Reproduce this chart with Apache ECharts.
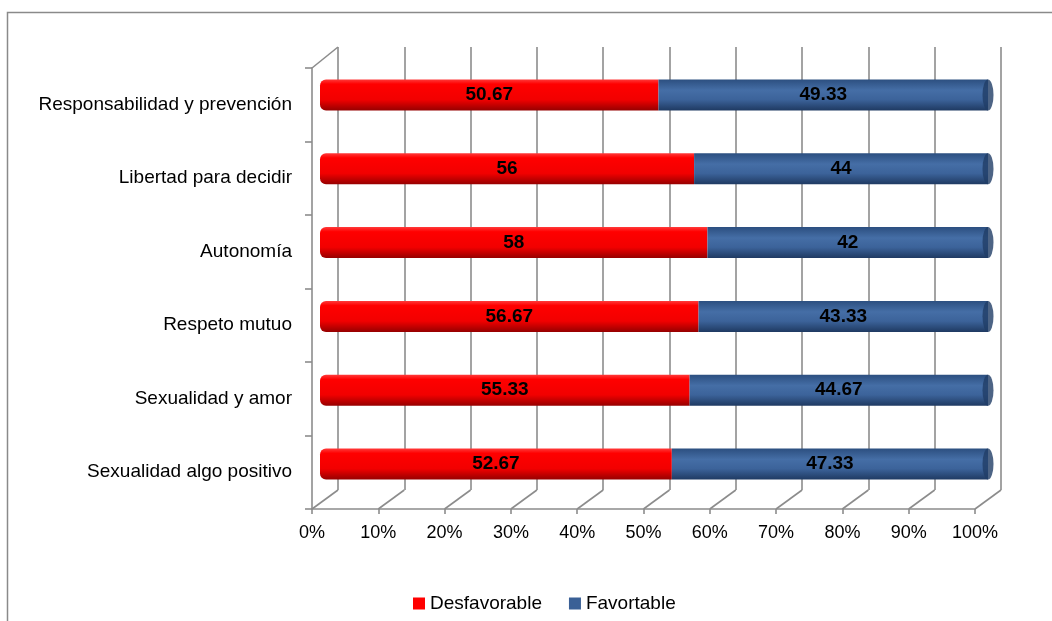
<!DOCTYPE html>
<html>
    <head>
        <meta charset="utf-8" />
        <script src="https://cdnjs.cloudflare.com/ajax/libs/echarts/6.0.0/echarts.min.js"></script>
    </head>
    <body style="margin: 0">
        <div id="main" style="width: 1052px; height: 621px"></div>
        <script type="text/javascript">
            // data, top to bottom as in the picture
            var categories = [
                "Responsabilidad y prevención",
                "Libertad para decidir",
                "Autonomía",
                "Respeto mutuo",
                "Sexualidad y amor",
                "Sexualidad algo positivo",
            ];
            var desfavorable = [50.67, 56, 58, 56.67, 55.33, 52.67];
            var favortable = [49.33, 44, 42, 43.33, 44.67, 47.33];
            var ticks = [0, 10, 20, 30, 40, 50, 60, 70, 80, 90, 100];

            var font = "'Liberation Sans', Arial, sans-serif";
            var gray = "#8c8c8c";

            var myChart = echarts.init(document.getElementById("main"));

            var redFill = new echarts.graphic.LinearGradient(0, 0, 0, 1, [
                { offset: 0, color: "#ff3a3a" },
                { offset: 0.15, color: "#ff0000" },
                { offset: 0.65, color: "#f20000" },
                { offset: 1, color: "#960000" },
            ]);
            var blueFill = new echarts.graphic.LinearGradient(0, 0, 0, 1, [
                { offset: 0, color: "#2c4f80" },
                { offset: 0.35, color: "#456ea6" },
                { offset: 0.65, color: "#3c639a" },
                { offset: 1, color: "#1f3a62" },
            ]);

            var labelStyle = {
                show: true,
                position: "inside",
                color: "#000",
                fontFamily: font,
                fontWeight: "bold",
                fontSize: 19,
            };

            myChart.setOption({
                animation: false,
                textStyle: { fontFamily: font },
                graphic: [
                    {
                        type: "rect",
                        shape: { x: 7.5, y: 12.5, width: 1200, height: 800 },
                        style: { fill: "none", stroke: "#8a8a8a", lineWidth: 1.5 },
                        silent: true,
                    },
                ],
                legend: {
                    left: 408,
                    top: 589,
                    itemWidth: 12,
                    itemHeight: 12,
                    itemGap: 27,
                    icon: "rect",
                    textStyle: { fontSize: 19, color: "#000", fontFamily: font },
                    data: [
                        { name: "Desfavorable", itemStyle: { color: "#ff0000" } },
                        { name: "Favortable", itemStyle: { color: "#3a6096" } },
                    ],
                },
                grid: [
                    // back wall
                    { left: 338, right: 51, top: 47, bottom: 131 },
                    // bars, halfway in depth
                    { left: 320, right: 64, top: 58, bottom: 120 },
                    // front axes
                    { left: 312, right: 77, top: 68, bottom: 112 },
                ],
                xAxis: [
                    {
                        gridIndex: 0,
                        type: "value",
                        min: 0,
                        max: 100,
                        interval: 10,
                        axisLine: { show: false },
                        axisTick: { show: false },
                        axisLabel: { show: false },
                        splitLine: { show: true, lineStyle: { color: gray, width: 1.6 } },
                    },
                    {
                        gridIndex: 1,
                        type: "value",
                        min: 0,
                        max: 100,
                        show: false,
                    },
                    {
                        gridIndex: 2,
                        type: "value",
                        min: 0,
                        max: 100,
                        interval: 10,
                        axisLine: { show: true, lineStyle: { color: gray, width: 1.6 } },
                        axisTick: { show: true, length: 5, lineStyle: { color: gray, width: 1.6 } },
                        axisLabel: {
                            formatter: "{value}%",
                            color: "#000",
                            fontSize: 18,
                            margin: 15,
                        },
                        splitLine: { show: false },
                    },
                ],
                yAxis: [
                    {
                        gridIndex: 0,
                        type: "category",
                        data: categories,
                        inverse: true,
                        show: false,
                    },
                    {
                        gridIndex: 1,
                        type: "category",
                        data: categories,
                        inverse: true,
                        show: false,
                    },
                    {
                        gridIndex: 2,
                        type: "category",
                        data: categories,
                        inverse: true,
                        axisLine: { show: true, lineStyle: { color: gray, width: 1.6 } },
                        axisTick: { show: true, length: 7, lineStyle: { color: gray, width: 1.6 } },
                        axisLabel: { color: "#000", fontSize: 19, margin: 20 },
                    },
                ],
                series: [
                    {
                        name: "Desfavorable",
                        type: "bar",
                        xAxisIndex: 1,
                        yAxisIndex: 1,
                        stack: "total",
                        barWidth: 31,
                        data: desfavorable,
                        itemStyle: { color: redFill, borderRadius: [6, 0, 0, 6] },
                        label: labelStyle,
                    },
                    {
                        name: "Favortable",
                        type: "bar",
                        xAxisIndex: 1,
                        yAxisIndex: 1,
                        stack: "total",
                        barWidth: 31,
                        data: favortable,
                        itemStyle: { color: blueFill },
                        label: labelStyle,
                    },
                    {
                        // end cap of each cylinder
                        name: "cap",
                        type: "scatter",
                        xAxisIndex: 1,
                        yAxisIndex: 1,
                        symbol: "circle",
                        symbolSize: [11, 31],
                        silent: true,
                        z: 3,
                        itemStyle: { color: "#213d66" },
                        data: categories.map(function (c, i) {
                            return [desfavorable[i] + favortable[i], c];
                        }),
                    },
                    {
                        // floor and wall edges of the 3D box
                        name: "floor",
                        type: "custom",
                        xAxisIndex: 2,
                        yAxisIndex: 2,
                        silent: true,
                        data: ticks.map(function (t) {
                            return [t, 0];
                        }),
                        renderItem: function (params, api) {
                            var cs = params.coordSys;
                            var p = api.coord([api.value(0), 0]);
                            var bottom = cs.y + cs.height;
                            var style = { stroke: gray, lineWidth: 1.6 };
                            var children = [
                                {
                                    type: "line",
                                    shape: { x1: p[0], y1: bottom, x2: p[0] + 26, y2: bottom - 19 },
                                    style: style,
                                },
                            ];
                            if (api.value(0) === 0) {
                                children.push({
                                    type: "line",
                                    shape: { x1: cs.x, y1: cs.y, x2: cs.x + 26, y2: cs.y - 21 },
                                    style: style,
                                });
                            }
                            return { type: "group", children: children };
                        },
                    },
                ],
            });
        </script>
    </body>
</html>
